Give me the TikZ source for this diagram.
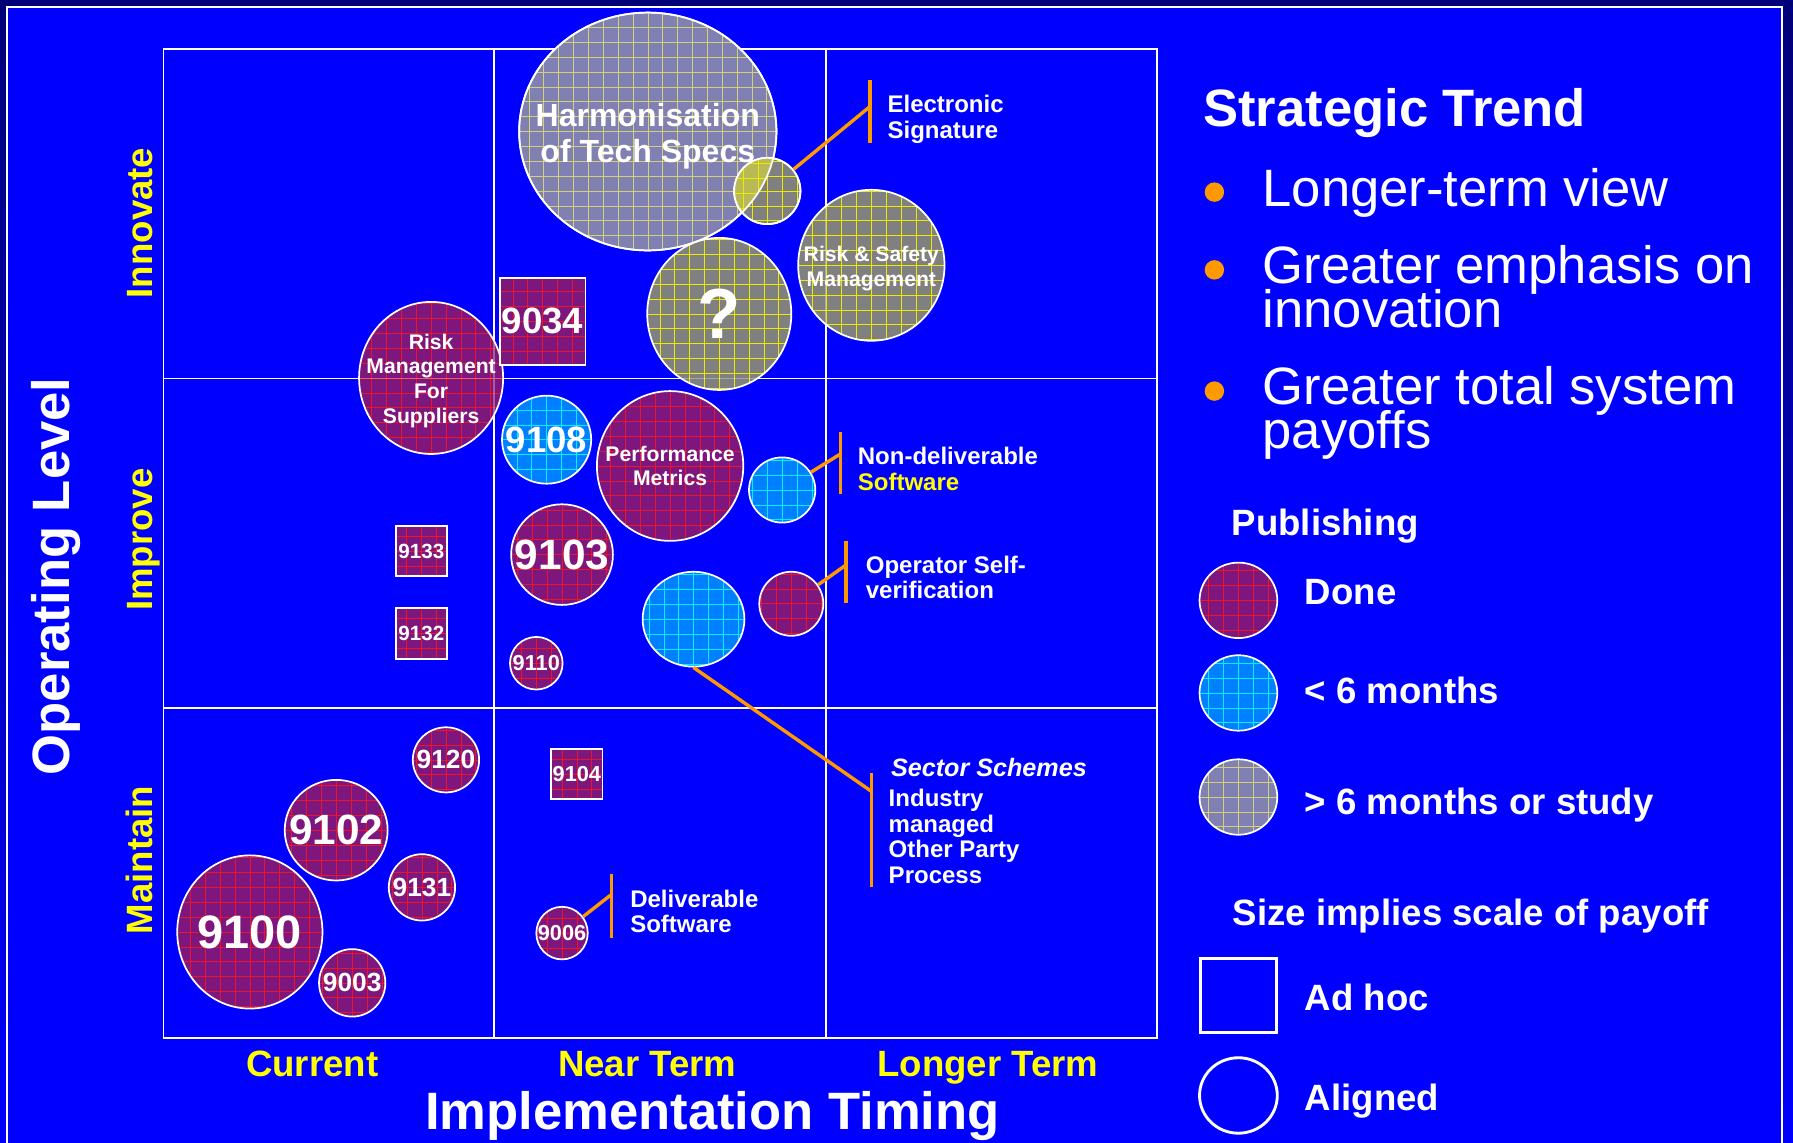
\documentclass[tikz,border=0pt]{standalone}
\usepackage{fontspec}
\setmainfont{Liberation Sans}
\usetikzlibrary{shapes.geometric}
\newcommand\setfs[2]{\fontsize{#1}{#2}\selectfont\lineskiplimit=-60pt\relax}
\definecolor{bgblue}{RGB}{0,0,255}
\definecolor{navyC}{RGB}{0,0,120}
\definecolor{donefill}{RGB}{125,22,125}
\definecolor{donegrid}{RGB}{235,20,40}
\definecolor{soonfill}{RGB}{0,128,255}
\definecolor{soongrid}{RGB}{0,240,255}
\definecolor{studyfill}{RGB}{128,128,128}
\definecolor{studygrid}{RGB}{235,235,0}
\definecolor{harmfill}{RGB}{128,128,178}
\definecolor{harmgrid}{RGB}{210,210,120}
\definecolor{overlapC}{RGB}{185,185,85}
\definecolor{orangeC}{RGB}{255,153,0}
\definecolor{yellowC}{RGB}{255,255,0}
\tikzset{
  gridfill/.style={path picture={\draw[#1, line width=0.5pt]
     ([shift={(-1pt,-1pt)}]path picture bounding box.south west) grid[step=13pt]
     ([shift={(1pt,1pt)}]path picture bounding box.north east);}},
  ell/.style 2 args={ellipse, minimum width=#1pt, minimum height=#2pt, inner sep=0pt},
  sq/.style 2 args={rectangle, minimum width=#1pt, minimum height=#2pt, inner sep=0pt},
  bub/.style={draw=white, line width=1.5pt},
  done/.style={bub, fill=donefill, gridfill=donegrid},
  soon/.style={bub, fill=soonfill, gridfill=soongrid},
  study/.style={bub, fill=studyfill, gridfill=studygrid},
  harmst/.style={bub, fill=harmfill, gridfill=harmgrid},
  btxt/.style={text=white, font=\bfseries, align=center, inner sep=0pt},
  callout/.style={draw=orangeC, line width=3pt},
  ctxt/.style={text=white, font=\bfseries\setfs{21}{22.3}, align=left, inner sep=0pt, anchor=north west},
  big/.style={text=white, font=\setfs{46}{38.5}, align=left, inner sep=0pt},
  leg/.style={text=white, font=\bfseries\setfs{32}{36}, inner sep=0pt, anchor=base west},
  axlab/.style={text=yellowC, font=\bfseries\setfs{32}{36}, inner sep=0pt, anchor=base},
  matrixline/.style={draw=white, line width=1.6pt},
}
\begin{document}
\begin{tikzpicture}[x=1pt,y=-1pt]
\useasboundingbox (0,0) rectangle (1568,999);
% background and frame
\shade[top color=navyC, bottom color=bgblue] (0,0) rectangle (1568,999);
\fill[navyC] (0,0) rectangle (1568,6);
\fill[bgblue] (6,6) rectangle (1558,1010);
\draw[white, line width=1.8pt] (6,1010) -- (6,6) -- (1558,6) -- (1558,1010);

% matrix
\draw[matrixline] (143,43) rectangle (1012,908);
\draw[matrixline] (432,43) -- (432,908) (722,43) -- (722,908)
                  (143,331) -- (1012,331) (143,619) -- (1012,619);

% >6 months / study
\node[harmst, ell={225}{208}] (harm) at (566.5,115) {};
\node[study, ell={58}{58}] (elec) at (671,167) {};
\begin{scope}
  \clip (566.5,115) ellipse [x radius=112.5, y radius=104];
  \fill[overlapC] (671,167) ellipse [x radius=29, y radius=29];
  \clip (671,167) ellipse [x radius=29, y radius=29];
  \draw[studygrid, line width=0.5pt] (630,210) grid[step=13pt] (710,120);
\end{scope}
\draw[white, line width=1.5pt] (566.5,115) ellipse [x radius=112.5, y radius=104];
\draw[white, line width=1.5pt] (671,167) ellipse [x radius=29, y radius=29];
\node[study, ell={126}{133}] (quest) at (629,274.5) {};
\node[study, ell={128}{132}] (rsm) at (762,232) {};

% done (aligned)
\node[done, ell={126}{133}] (rmfs) at (377,330.5) {};
\node[done, ell={128}{131}] (perf) at (586,407.5) {};
\node[done, ell={89}{88}] (n9103) at (491.5,485) {};
\node[done, ell={56}{56}] (osv) at (692,528) {};
\node[done, ell={46}{46}] (n9110) at (469,580) {};
\node[done, ell={58}{57}] (n9120) at (390,664.5) {};
\node[done, ell={90}{88}] (n9102) at (294,726) {};
\node[done, ell={58}{58}] (n9131) at (369,776) {};
\node[done, ell={127}{134}] (n9100) at (218.5,815) {};
\node[done, ell={58}{59}] (n9003) at (308,859.5) {};
\node[done, ell={45}{46}] (n9006) at (491.5,816) {};

% done (ad hoc)
\node[done, sq={75}{76}] (n9034) at (474.5,281) {};
\node[done, sq={45}{44}] (n9133) at (368.5,482) {};
\node[done, sq={45}{44}] (n9132) at (368.5,554) {};
\node[done, sq={45}{44}] (n9104) at (504.5,677) {};

% < 6 months
\node[soon, ell={78}{77}] (n9108) at (478,384.5) {};
\node[soon, ell={58}{57}] (nds) at (684,428.5) {};
\node[soon, ell={89}{83}] (sect) at (606.5,541.5) {};

% matrix lines showing faintly through bubbles
\draw[white, line width=1.4pt, draw opacity=0.3] (314,331) -- (692,331) (432,264) -- (432,397) (722,166) -- (722,298);

% bubble texts
\node[btxt, font=\bfseries\setfs{28}{32}] (harmt) at ([yshift=-4pt]harm) {Harmonisation\\of Tech Specs};
\node[btxt, font=\bfseries\setfs{62}{62}] (questt) at (quest) {?};
\node[btxt, font=\bfseries\setfs{18.5}{22}] (rsmt) at ([yshift=-3pt]rsm) {Risk \& Safety\\Management};
\node[btxt, font=\bfseries\setfs{18.5}{21.7}] (rmfst) at ([yshift=-2.5pt]rmfs) {Risk\\Management\\For\\Suppliers};
\node[btxt, font=\bfseries\setfs{18.5}{21}] (perft) at (perf) {Performance\\Metrics};
\node[btxt, font=\bfseries\setfs{37}{40}] at (n9103) {9103};
\node[btxt, font=\bfseries\setfs{19}{20}] at (n9110) {9110};
\node[btxt, font=\bfseries\setfs{23}{25}] at (n9120) {9120};
\node[btxt, font=\bfseries\setfs{37}{40}] at (n9102) {9102};
\node[btxt, font=\bfseries\setfs{23}{25}] at (n9131) {9131};
\node[btxt, font=\bfseries\setfs{41}{44}] at (n9100) {9100};
\node[btxt, font=\bfseries\setfs{23}{25}] at (n9003) {9003};
\node[btxt, font=\bfseries\setfs{19}{20}] at (n9006) {9006};
\node[btxt, font=\bfseries\setfs{32}{34}] at (n9034) {9034};
\node[btxt, font=\bfseries\setfs{18}{20}] at (n9133) {9133};
\node[btxt, font=\bfseries\setfs{18}{20}] at (n9132) {9132};
\node[btxt, font=\bfseries\setfs{19}{20}] at (n9104) {9104};
\node[btxt, font=\bfseries\setfs{32}{34}] at (n9108) {9108};

% callouts
\coordinate (elecj) at (761,93);  \coordinate (elecbt) at (761,70);  \coordinate (elecbb) at (761,125);
\coordinate (ndsj) at (735,397);  \coordinate (ndsbt) at (735,378);  \coordinate (ndsbb) at (735,432);
\coordinate (osvj) at (740,494);  \coordinate (osvbt) at (740,473);  \coordinate (osvbb) at (740,527);
\coordinate (sectj) at (762,692); \coordinate (sectbt) at (762,676); \coordinate (sectbb) at (762,776);
\coordinate (delj) at (535,782);  \coordinate (delbt) at (535,764);  \coordinate (delbb) at (535,820);
\draw[callout] (elec) -- (elecj);   \draw[callout] (elecbt) -- (elecbb);
\draw[callout] (nds) -- (ndsj);     \draw[callout] (ndsbt) -- (ndsbb);
\draw[callout] (osv) -- (osvj);     \draw[callout] (osvbt) -- (osvbb);
\draw[callout] (sect.south) -- (sectj); \draw[callout] (sectbt) -- (sectbb);
\draw[callout] (n9006) -- (delj);   \draw[callout] (delbt) -- (delbb);

\node[ctxt] (elect) at (776,83) {Electronic\\Signature};
\node[ctxt] (ndst) at (750,391) {Non-deliverable\\\textcolor{yellowC}{Software}};
\node[ctxt] (osvt) at (757,486) {Operator Self-\\verification};
\node[ctxt, font=\bfseries\itshape\setfs{22}{24}] (sectt) at (779,663) {Sector Schemes};
\node[ctxt] (sectb) at (777,690) {Industry\\managed\\Other Party\\Process};
\node[ctxt] (delt) at (551,778) {Deliverable\\Software};

% axis labels
\node[rotate=90, anchor=base, text=white, font=\bfseries\setfs{46}{50}, inner sep=0pt] (ylab) at (61,504) {Operating Level};
\node[rotate=90, axlab] (rinn) at (133,195) {Innovate};
\node[rotate=90, axlab] (rimp) at (133,472) {Improve};
\node[rotate=90, axlab] (rmai) at (133,752) {Maintain};
\node[axlab] (ccur) at (273,941) {Current};
\node[axlab] (cnear) at (566,941) {Near Term};
\node[axlab] (clong) at (864,941) {Longer Term};
\node[anchor=base, text=white, font=\bfseries\setfs{46}{50}, inner sep=0pt] (xlab) at (623,988) {Implementation Timing};

% strategic trend
\node[anchor=base west, text=white, font=\bfseries\setfs{46}{50}, inner sep=0pt] (title) at (1052,111) {Strategic Trend};
\node[circle, fill=orangeC, minimum size=17pt, inner sep=0pt] (b1) at (1062,168) {};
\node[circle, fill=orangeC, minimum size=17pt, inner sep=0pt] (b2) at (1062,236) {};
\node[circle, fill=orangeC, minimum size=17pt, inner sep=0pt] (b3) at (1062,342) {};
\node[big, anchor=base west] (t1) at (1104,181) {Longer-term view};
\node[big, anchor=north west] (t2) at (1104,214) {Greater emphasis on\\innovation};
\node[big, anchor=north west] (t3) at (1104,320) {Greater total system\\payoffs};

% legend
\node[leg] (pub) at (1077,468) {Publishing};
\node[done, ell={68}{66}] (lgdone) at (1083,525) {};
\node[leg] (lgdonet) at (1141,529) {Done};
\node[soon, ell={68}{66}] (lgsoon) at (1083,606) {};
\node[leg] (lgsoont) at (1141,615) {< 6 months};
\node[harmst, ell={68}{66}] (lgstudy) at (1083,697) {};
\node[leg] (lgstudyt) at (1141,712) {> 6 months or study};
\node[leg] (size) at (1078,809) {Size implies scale of payoff};
\node[sq={66}{65}, draw=white, line width=2.5pt] (lgadhoc) at (1083,870.5) {};
\node[leg] (lgadhoct) at (1141,884) {Ad hoc};
\node[ell={68}{66}, draw=white, line width=2.5pt] (lgal) at (1083,958) {};
\node[leg] (lgalt) at (1141,971) {Aligned};
\end{tikzpicture}
\end{document}
